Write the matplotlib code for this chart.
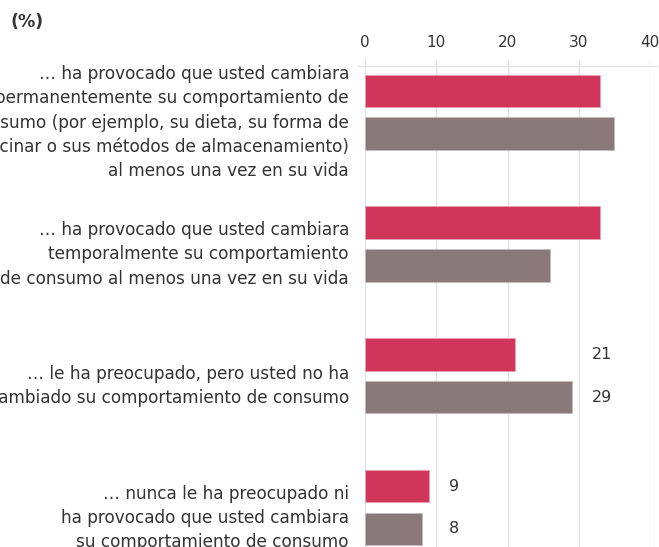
import matplotlib

matplotlib.use("Agg")
import matplotlib.pyplot as plt
from matplotlib.lines import Line2D
from matplotlib.transforms import blended_transform_factory

categories = [
    "… ha provocado que usted cambiara\npermanentemente su comportamiento de\nconsumo (por ejemplo, su dieta, su forma de\ncocinar o sus métodos de almacenamiento)\nal menos una vez en su vida",
    "… ha provocado que usted cambiara\ntemporalmente su comportamiento\nde consumo al menos una vez en su vida",
    "… le ha preocupado, pero usted no ha\ncambiado su comportamiento de consumo",
    "… nunca le ha preocupado ni\nha provocado que usted cambiara\nsu comportamiento de consumo",
]
series_a = [33, 33, 21, 9]
series_b = [35, 26, 29, 8]
show_values = [False, False, True, True]
xticks = [0, 10, 20, 30, 40]

RED = "#d03659"
GREY = "#8a797b"
TEXT = "#333333"

fig = plt.figure(figsize=(6.59, 5.47), dpi=100)
ax = fig.add_axes([365 / 659, 0.0, 285 / 659, 487 / 547])

ys = list(range(len(categories)))
off = 0.162
h = 0.247
ax.barh([y - off for y in ys], series_a, height=h, color=RED, edgecolor="#e8a0b0", linewidth=0.6, zorder=3)
ax.barh([y + off for y in ys], series_b, height=h, color=GREY, edgecolor="#c8bcbe", linewidth=0.6, zorder=3)

for y, a, b, show in zip(ys, series_a, series_b, show_values):
    if not show:
        continue
    x = max(a, b) + 2.8
    ax.text(x, y - off, str(a), ha="left", va="center", fontsize=11.5, color=TEXT)
    ax.text(x, y + off, str(b), ha="left", va="center", fontsize=11.5, color=TEXT)

ax.set_xlim(0, 40)
ax.set_ylim(3.30, -0.397)
ax.xaxis.tick_top()
ax.set_xticks(xticks)
ax.tick_params(axis="x", length=0, pad=7, labelsize=11, labelcolor=TEXT)
ax.set_yticks([])
ax.grid(axis="x", color="#e3e3e3", linewidth=1, zorder=0)
for s in ax.spines.values():
    s.set_visible(False)

# category labels, right-aligned left of the axes (cut at the left edge, as in the source)
tr = blended_transform_factory(fig.transFigure, ax.transData)
for y, lab in zip(ys, categories):
    ax.annotate(lab, xy=(349 / 659, y), xycoords=tr, xytext=(0, -7.5), textcoords="offset points",
                ha="right", va="center", fontsize=12.2, color=TEXT, linespacing=1.45,
                annotation_clip=False)

# header rule above bars
fig.add_artist(Line2D([358 / 659, 657 / 659], [1 - 66 / 547, 1 - 66 / 547],
                      transform=fig.transFigure, color="#e3e3e3", linewidth=1))

fig.text(10 / 659, 1 - 22 / 547, "(%)", fontsize=12.5, fontweight="bold", color=TEXT,
         ha="left", va="center")

fig.savefig("out.png", dpi=100)
